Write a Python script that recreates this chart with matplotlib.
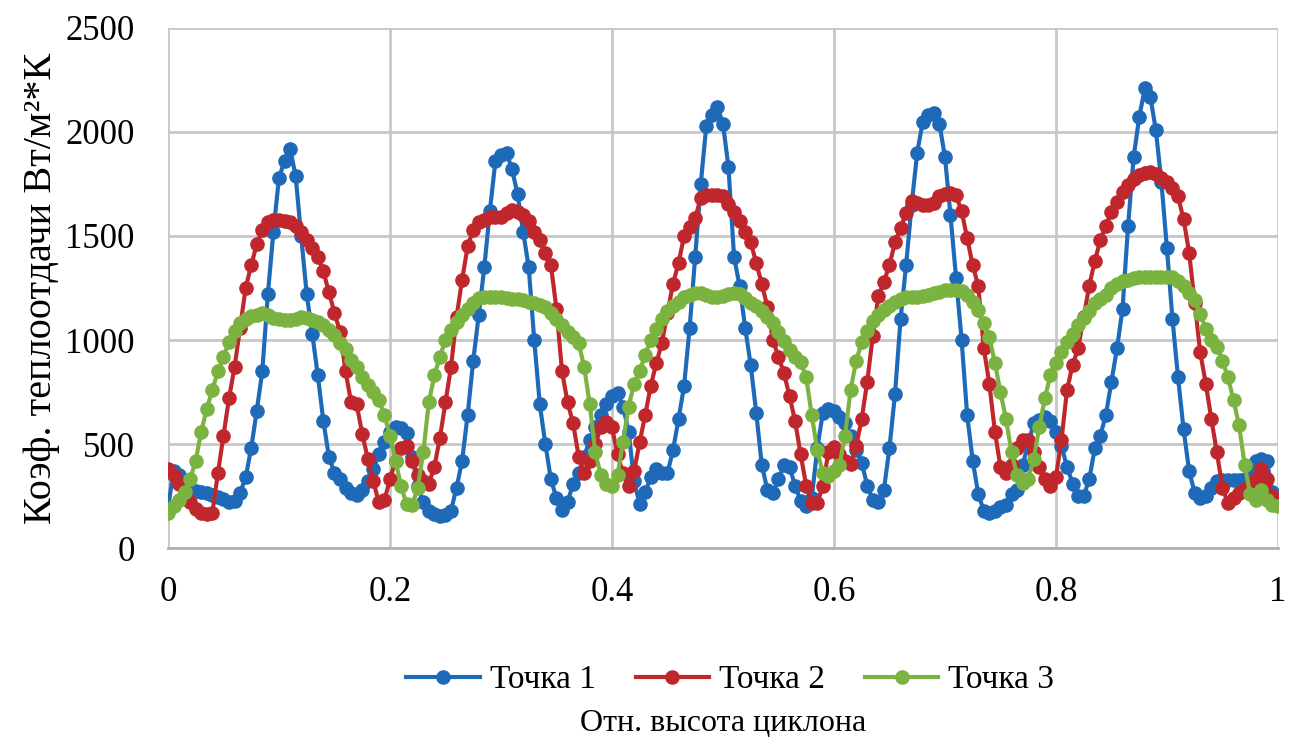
import numpy as np
import matplotlib
matplotlib.use("Agg")
import matplotlib.pyplot as plt

plt.rcParams['font.family'] = ['Liberation Serif', 'DejaVu Serif']

# relative height, sampled every 0.005
x = np.round(np.arange(0, 1.0001, 0.005), 3)

# Точка 1
t1 = [190, 370, 350, 300, 285, 275, 270, 265, 255, 245,
      235, 220, 225, 265, 340, 480, 660, 850, 1220, 1520,
      1780, 1860, 1920, 1790, 1500, 1220, 1030, 830, 610, 440,
      360, 330, 290, 265, 255, 280, 320, 380, 450, 510,
      560, 580, 575, 555, 440, 300, 220, 180, 165, 155,
      160, 180, 290, 420, 640, 900, 1120, 1350, 1620, 1860,
      1890, 1900, 1820, 1700, 1520, 1350, 1000, 690, 500, 330,
      240, 185, 220, 310, 360, 440, 520, 580, 640, 690,
      730, 745, 680, 560, 320, 210, 270, 340, 380, 360,
      360, 470, 620, 780, 1060, 1400, 1750, 2030, 2080, 2120,
      2040, 1830, 1400, 1260, 1060, 880, 650, 400, 280, 265,
      330, 400, 390, 300, 225, 200, 240, 480, 650, 670,
      660, 630, 600, 540, 470, 410, 300, 230, 220, 280,
      480, 740, 1100, 1360, 1650, 1900, 2050, 2080, 2090, 2040,
      1880, 1600, 1300, 1000, 640, 420, 260, 180, 170, 180,
      195, 205, 260, 280, 400, 500, 600, 615, 630, 610,
      560, 490, 390, 310, 250, 250, 330, 480, 540, 640,
      800, 960, 1150, 1550, 1880, 2070, 2210, 2170, 2010, 1760,
      1440, 1100, 820, 570, 370, 265, 240, 250, 290, 320,
      325, 325, 325, 325, 330, 380, 420, 430, 420, 270,
      240]

# Точка 2
t2 = [380, 350, 310, 270, 220, 190, 170, 165, 170, 360,
      540, 720, 870, 1060, 1250, 1360, 1460, 1530, 1565, 1577,
      1577, 1572, 1565, 1550, 1520, 1480, 1440, 1400, 1330, 1230,
      1130, 1040, 850, 700, 690, 550, 430, 320, 220, 230,
      330, 420, 480, 490, 420, 350, 320, 310, 390, 530,
      700, 870, 1110, 1290, 1450, 1530, 1565, 1577, 1590, 1593,
      1593, 1610, 1625, 1617, 1600, 1570, 1520, 1480, 1420, 1360,
      1150, 850, 700, 600, 440, 360, 420, 500, 580, 605,
      580, 450, 360, 300, 370, 510, 640, 780, 890, 985,
      1130, 1270, 1370, 1500, 1545, 1585, 1685, 1697, 1697, 1697,
      1690, 1655, 1617, 1570, 1520, 1470, 1370, 1270, 1160, 1000,
      920, 840, 730, 610, 450, 300, 215, 215, 300, 460,
      485, 450, 420, 405, 490, 620, 800, 1020, 1210, 1280,
      1360, 1470, 1540, 1610, 1670, 1660, 1650, 1649, 1660, 1690,
      1700, 1705, 1695, 1620, 1490, 1360, 1260, 960, 790, 560,
      390, 360, 400, 480, 519, 519, 460, 390, 330, 300,
      340, 520, 760, 880, 960, 1110, 1260, 1380, 1480, 1550,
      1617, 1665, 1710, 1745, 1775, 1795, 1805, 1809, 1798, 1780,
      1760, 1729, 1690, 1580, 1420, 1180, 940, 790, 620, 460,
      290, 215, 240, 265, 285, 290, 330, 380, 330, 250,
      220]

# Точка 3
t3 = [170, 200, 230, 270, 330, 420, 560, 670, 760, 850,
      920, 990, 1045, 1080, 1100, 1115, 1122, 1128, 1120, 1108,
      1102, 1098, 1096, 1100, 1110, 1108, 1098, 1085, 1070, 1050,
      1025, 985, 955, 905, 870, 820, 785, 750, 712, 640,
      540, 420, 300, 210, 205, 290, 460, 700, 830, 920,
      1000, 1050, 1085, 1120, 1150, 1180, 1200, 1208, 1208, 1208,
      1205, 1200, 1197, 1195, 1192, 1185, 1180, 1170, 1160, 1130,
      1100, 1070, 1040, 1015, 985, 870, 690, 460, 350, 310,
      300, 350, 510, 680, 790, 850, 930, 1000, 1055, 1100,
      1140, 1165, 1185, 1205, 1218, 1228, 1228, 1215, 1208, 1208,
      1212, 1220, 1224, 1222, 1200, 1180, 1165, 1140, 1112, 1080,
      1040, 995, 950, 920, 895, 820, 640, 470, 360, 345,
      370, 400, 540, 760, 900, 990, 1045, 1090, 1120, 1144,
      1165, 1185, 1198, 1205, 1205, 1208, 1210, 1218, 1224, 1232,
      1238, 1240, 1240, 1235, 1215, 1185, 1145, 1080, 1015, 890,
      750, 620, 460, 350, 315, 330, 430, 580, 720, 830,
      890, 940, 990, 1030, 1070, 1105, 1140, 1180, 1195, 1215,
      1250, 1270, 1283, 1290, 1298, 1303, 1305, 1305, 1305, 1305,
      1305, 1303, 1285, 1260, 1225, 1190, 1125, 1055, 1000, 965,
      900, 820, 710, 590, 400, 260, 230, 280, 230, 205,
      200]

labels = ['Точка 1', 'Точка 2', 'Точка 3']
colors = ['#1F6AB8', '#C0272D', '#7BB341']

fig = plt.figure(figsize=(12.97, 7.44), dpi=100)
ax = fig.add_axes([0.1295, 0.2634, 0.8558, 0.699])

for ys, lab, c in zip([t1, t2, t3], labels, colors):
    ax.plot(x, ys, color=c, lw=3, marker='o', ms=9.5, label=lab)

ax.set_xlim(0, 1)
ax.set_ylim(0, 2500)
ax.set_xticks([0, 0.2, 0.4, 0.6, 0.8, 1])
ax.set_xticklabels(['0', '0.2', '0.4', '0.6', '0.8', '1'])
ax.set_yticks(range(0, 2501, 500))
ax.tick_params(length=0, labelsize=25)
ax.tick_params(axis='y', pad=24)
ax.tick_params(axis='x', pad=20)
ax.grid(True, color='#c8c8c8', lw=2)
ax.set_axisbelow(True)
for s in ['top', 'right', 'left']:
    ax.spines[s].set_visible(False)
ax.spines['bottom'].set_color('#b0b0b0')
ax.spines['bottom'].set_linewidth(2)

ax.set_ylabel('Коэф. теплоотдачи Вт/м²*К', fontsize=29, labelpad=4)
ax.set_xlabel('Отн. высота циклона', fontsize=23, labelpad=72)

fig.legend(loc='center', bbox_to_anchor=(0.563, 0.086), ncol=3, frameon=False,
           fontsize=24, handlelength=2.2, columnspacing=1.2, handletextpad=0.3)

fig.savefig('out.png', dpi=100)
